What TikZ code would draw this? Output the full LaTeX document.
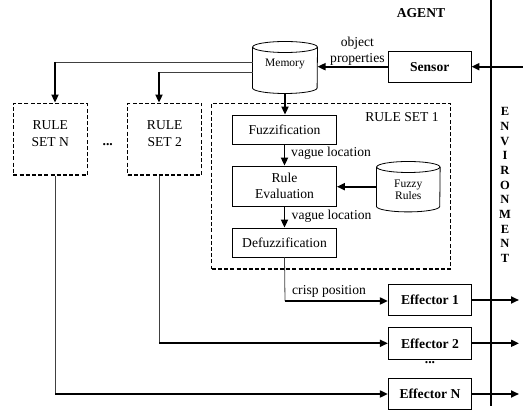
\documentclass[tikz,border=0pt]{standalone}
\usepackage{fontspec}
\setmainfont{Liberation Serif}
\usetikzlibrary{arrows.meta}
\begin{document}
\begin{tikzpicture}[x=1pt,y=-1pt,
  box/.style={draw,line width=0.8pt,inner sep=0pt,font=\fontsize{13.6}{15.5}\selectfont,align=center},
  bbox/.style={box,font=\fontsize{13.6}{15.5}\selectfont\bfseries},
  dbox/.style={draw,line width=1.5pt,dash pattern=on 4pt off 2.2pt,inner sep=0pt},
  txt/.style={inner sep=0pt,font=\fontsize{13.6}{16.5}\selectfont,align=center},
  stxt/.style={inner sep=0pt,font=\fontsize{11.5}{12}\selectfont,align=center},
  thk/.style={line width=1.8pt,-{Triangle[length=8pt,width=7pt]}},
  thn/.style={line width=0.8pt,draw=black!75},
  cyl/.style={line width=0.8pt},
]
\useasboundingbox (0,0) rectangle (523,411);

% environment boundary
\coordinate (vt) at (491,0);
\coordinate (vb) at (491,406);
\draw[line width=1.1pt] (vt) -- (vb);
\node[txt,font=\fontsize{12.5}{14.66}\selectfont\bfseries] (env) at (505,185)
  {E\\N\\V\\I\\R\\O\\N\\M\\E\\N\\T};
\node[txt,font=\fontsize{13.6}{16}\selectfont\bfseries] (agent) at (421,13) {AGENT};

% memory cylinder
\node[minimum width=64.6pt,minimum height=51.6pt,inner sep=0pt] (mem) at (285,67.5) {};
\draw[cyl] ([yshift=-5.5pt]mem.north west) -- ([yshift=5.5pt]mem.south west)
  arc[start angle=180,end angle=360,x radius=32.3pt,y radius=5.5pt]
  -- ([yshift=-5.5pt]mem.north east);
\draw[cyl] ([yshift=-5.5pt]mem.north) ellipse[x radius=32.3pt,y radius=5.5pt];
\node[stxt] (memlbl) at (285,64) {Memory};

% sensor
\node[bbox,minimum width=82.7pt,minimum height=31.3pt] (sensor) at (429.7,66.7) {Sensor};
\coordinate (in) at (523,66.7);
\draw[thk] (in) -- (sensor.east);
\draw[thk] (sensor.west) -- (sensor.west -| mem.east);
\node[txt] (objprop) at (357.4,51) {object\\properties};

% rule sets N and 2
\node[dbox,minimum width=74pt,minimum height=71.7pt] (rsN) at (50.3,139.2) {};
\node[txt] (rsNl) at (50.3,133.5) {RULE\\SET N};
\node[dbox,minimum width=74pt,minimum height=71.7pt] (rs2) at (164.7,139.2) {};
\node[txt] (rs2l) at (164.7,133.5) {RULE\\SET 2};
\node[txt,font=\fontsize{13.6}{16}\selectfont\bfseries] (dots1) at (107.7,145) {...};

% rule set 1
\node[dbox,minimum width=239pt,minimum height=165.7pt] (rs1) at (331.2,186.2) {};
\node[txt] (rs1l) at (402,117) {RULE SET 1};
\node[box,minimum width=104pt,minimum height=29pt] (fuzz) at (284.5,129.5) {Fuzzification};
\node[box,minimum width=104pt,minimum height=40pt] (reval) at (284.5,186) {Rule\\Evaluation};
\node[box,minimum width=104pt,minimum height=29pt] (defuzz) at (284.5,242.5) {Defuzzification};

\node[minimum width=63.3pt,minimum height=50pt,inner sep=0pt] (fr) at (408.3,186.7) {};
\draw[cyl] ([yshift=-5.5pt]fr.north west) -- ([yshift=5.5pt]fr.south west)
  arc[start angle=180,end angle=360,x radius=31.65pt,y radius=5.5pt]
  -- ([yshift=-5.5pt]fr.north east);
\draw[cyl] ([yshift=-5.5pt]fr.north) ellipse[x radius=31.65pt,y radius=5.5pt];
\node[stxt] (frl) at (408.3,189.5) {Fuzzy\\Rules};

\draw[thk] (mem.south) -- (mem.south |- fuzz.north);
\draw[thk] (fuzz.south) -- (reval.north);
\draw[thk] (reval.south) -- (defuzz.north);
\draw[thk] (fr.west) -- (fr.west -| reval.east);
\node[txt,anchor=west] (vl1) at (291,153) {vague location};
\node[txt,anchor=west] (vl2) at (291.5,216.5) {vague location};

% effectors
\node[bbox,minimum width=83.4pt,minimum height=31.4pt] (eff1) at (430,300) {Effector 1};
\node[bbox,minimum width=83.4pt,minimum height=31.4pt] (eff2) at (430,343.3) {Effector 2};
\node[bbox,minimum width=83.4pt,minimum height=31.4pt] (effN) at (430,394) {Effector N};
\node[txt,font=\fontsize{13.6}{16}\selectfont\bfseries] (dots2) at (430,363) {...};
\coordinate (o1) at (519,300);
\coordinate (o2) at (519,343.3);
\coordinate (oN) at (519,394);
\draw[thk] (eff1.east) -- (o1);
\draw[thk] (eff2.east) -- (o2);
\draw[thk] (effN.east) -- (oN);

% memory to rule sets
\coordinate (tN) at (55,62);
\coordinate (t2) at (159,72);
\draw[thn] (tN -| mem.west) -- (tN);
\draw[thk] (tN) -- (tN |- rsN.north);
\draw[thn] (t2 -| mem.west) -- (t2);
\draw[thk] (t2) -- (t2 |- rs2.north);

% rule sets to effectors
\coordinate (bN) at (tN |- effN.west);
\coordinate (b2) at (t2 |- eff2.west);
\coordinate (b1) at (285,301);
\draw[thn] (tN |- rsN.south) -- (bN);
\draw[thk] (bN) -- (effN.west);
\draw[thn] (t2 |- rs2.south) -- (b2);
\draw[thk] (b2) -- (eff2.west);
\draw[thn] (defuzz.south) -- (b1);
\draw[thk] (b1) -- (b1 -| eff1.west);
\node[txt,anchor=west] (crisp) at (292,291.5) {crisp position};
\end{tikzpicture}
\end{document}
